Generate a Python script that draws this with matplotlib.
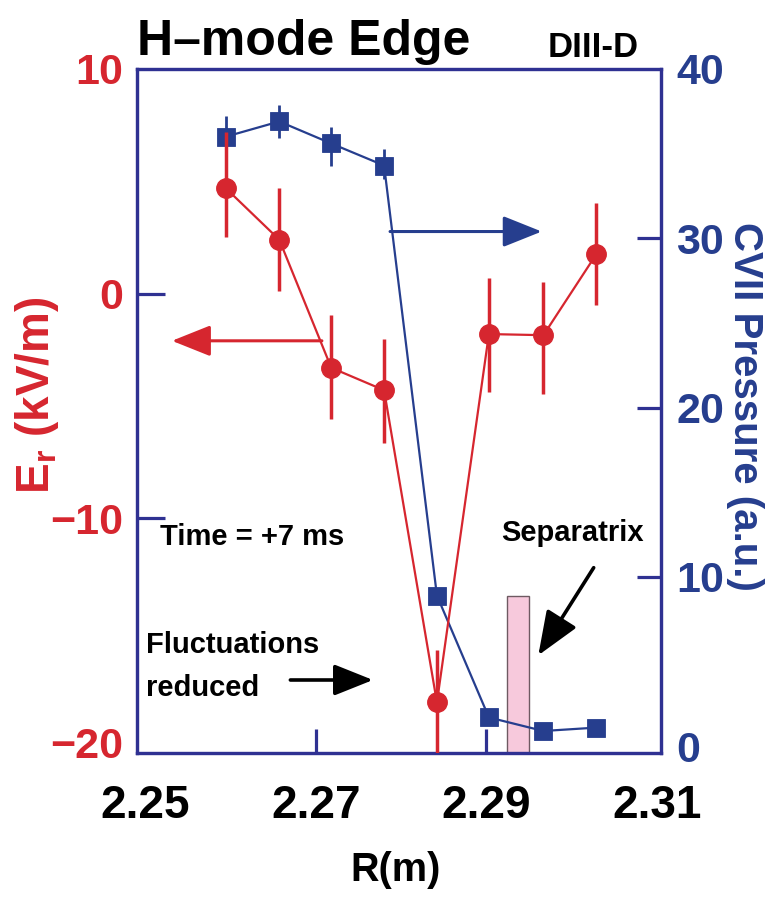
import matplotlib
matplotlib.use("Agg")
import matplotlib.pyplot as plt

# ---- data -------------------------------------------------------------
r_m = [2.2594, 2.2657, 2.2718, 2.2780, 2.2842, 2.2903, 2.2967, 2.3029]

er_kvm = [4.7, 2.4, -3.3, -4.3, -18.2, -1.8, -1.85, 1.75]
er_err_lo = [2.2, 2.3, 2.3, 2.35, 2.3, 2.6, 2.6, 2.25]
er_err_hi = [2.5, 2.3, 2.35, 2.3, 2.35, 2.5, 2.35, 2.3]

p_cvii = [36.0, 36.9, 35.6, 34.3, 8.9, 1.7, 0.9, 1.1]
p_err_lo = [1.1, 0.95, 1.3, 0.8, 0, 0, 0, 0]
p_err_hi = [1.2, 0.95, 1.0, 1.0, 0, 0, 0, 0]

separatrix_r = 2.2937
separatrix_top = 8.9

x_major = [2.27, 2.29]
x_edge = [2.25, 2.31]
er_major = [0, -10]
er_edge = [10, -20]
p_major = [10, 20, 30]
p_edge = [0, 40]

# ---- style ------------------------------------------------------------
RED = "#d6262f"
BLUE = "#263e8e"
FRAME = "#2f3192"
PINK = "#f7c9dc"

plt.rcParams["font.family"] = ["Liberation Sans", "DejaVu Sans"]
plt.rcParams["font.weight"] = "bold"
plt.rcParams["mathtext.fontset"] = "custom"
plt.rcParams["mathtext.rm"] = "Liberation Sans:bold"
plt.rcParams["mathtext.it"] = "Liberation Sans:bold"
plt.rcParams["mathtext.bf"] = "Liberation Sans:bold"

W, H = 770, 898
fig = plt.figure(figsize=(W / 100, H / 100), dpi=100)
ax = fig.add_axes([137 / W, 1 - 753 / H, 524 / W, 684 / H])
ax2 = ax.twinx()
# Er traces on top of the pressure traces
ax.set_zorder(ax2.get_zorder() + 1)
ax.patch.set_visible(False)

ax.set_xlim(2.249, 2.3105)
ax.set_ylim(-20.45, 10.0)
ax2.set_ylim(-0.4, 40.0)

for a in (ax, ax2):
    for s in a.spines.values():
        s.set_color(FRAME)
        s.set_linewidth(2.3)

# separatrix band
ax2.bar(separatrix_r, separatrix_top - ax2.get_ylim()[0], bottom=ax2.get_ylim()[0],
        width=0.0026, color=PINK, edgecolor="#6e5a62", linewidth=1.0, zorder=1)

# CVII pressure (right axis)
ax2.errorbar(r_m, p_cvii, yerr=[p_err_lo, p_err_hi], fmt="-s", color=BLUE,
             lw=1.6, ms=13, mew=0.6, elinewidth=2.0, capsize=0, zorder=3)
ax2.annotate("", xy=(2.2965, 30.4), xytext=(2.2787, 30.4),
             arrowprops=dict(arrowstyle="-|>,head_length=0.8,head_width=0.32",
                             mutation_scale=30, color=BLUE, lw=2.2,
                             shrinkA=0, shrinkB=0))

# Er (left axis)
ax.errorbar(r_m, er_kvm, yerr=[er_err_lo, er_err_hi], fmt="-o", color=RED,
            lw=1.6, ms=14, elinewidth=2.5, capsize=0, zorder=4)
ax.annotate("", xy=(2.2531, -2.1), xytext=(2.2707, -2.1),
            arrowprops=dict(arrowstyle="-|>,head_length=0.8,head_width=0.32",
                            mutation_scale=30, color=RED, lw=2.2,
                            shrinkA=0, shrinkB=0))

# black annotation arrows
ax.annotate("", xy=(2.2767, -17.2), xytext=(2.2670, -17.2),
            arrowprops=dict(arrowstyle="-|>,head_length=0.8,head_width=0.32",
                            mutation_scale=30, color="black", lw=2.6,
                            shrinkA=0, shrinkB=0))
ax.annotate("", xy=(2.2961, -16.1), xytext=(2.3026, -12.2),
            arrowprops=dict(arrowstyle="-|>,head_length=0.9,head_width=0.36",
                            mutation_scale=30, color="black", lw=2.6,
                            shrinkA=0, shrinkB=0))

# ---- ticks ------------------------------------------------------------
ax.set_xticks(x_major)
ax.set_xticks(x_edge, minor=True)
ax.set_xticklabels([f"{v:.2f}" for v in x_major])
ax.set_xticklabels([f"{v:.2f}" for v in x_edge], minor=True)
ax.set_yticks(er_major)
ax.set_yticks(er_edge, minor=True)
ax.set_yticklabels(["0", "\u221210"])
ax.set_yticklabels(["10", "\u221220"], minor=True)
ax2.set_yticks(p_major)
ax2.set_yticks(p_edge, minor=True)
ax2.set_yticklabels([str(v) for v in p_major])
ax2.set_yticklabels([str(v) for v in p_edge], minor=True)

ax.tick_params(axis="x", which="both", direction="in", pad=22, labelsize=33,
               labelcolor="black", color=FRAME)
ax.tick_params(axis="x", which="major", length=17, width=2.3)
ax.tick_params(axis="x", which="minor", length=0)
ax.tick_params(axis="y", which="both", direction="in", pad=10, labelsize=31,
               labelcolor=RED, color=FRAME)
ax.tick_params(axis="y", which="major", length=20, width=2.3)
ax.tick_params(axis="y", which="minor", length=0)
ax2.tick_params(axis="y", which="both", direction="in", pad=11, labelsize=31,
                labelcolor=BLUE, color=FRAME)
ax2.tick_params(axis="y", which="major", length=17, width=2.3)
ax2.tick_params(axis="y", which="minor", length=0)

# ---- text -------------------------------------------------------------
fig.text(137 / W, 1 - 55 / H, "H\u2013mode Edge", fontsize=36, ha="left", va="baseline")
fig.text(548 / W, 1 - 57 / H, "DIII-D", fontsize=25, ha="left", va="baseline")

fig.text(37 / W, 1 - 395 / H, r"E$_\mathrm{r}$ (kV/m)", fontsize=33, color=RED,
         rotation=90, ha="center", va="center")
fig.text(745 / W, 1 - 406 / H, "CVII Pressure (a.u.)", fontsize=29, color=BLUE,
         rotation=-90, ha="center", va="center")
fig.text(396 / W, 1 - 870 / H, "R(m)", fontsize=28.5, ha="center", va="center")

ax.text(2.2517, -11.2, "Time = +7 ms", fontsize=21, ha="left", va="baseline")
ax.text(2.2917, -11.0, "Separatrix", fontsize=21, ha="left", va="baseline")
ax.text(2.2500, -16.0, "Fluctuations", fontsize=21, ha="left", va="baseline")
ax.text(2.2500, -17.9, "reduced", fontsize=21, ha="left", va="baseline")

fig.savefig("out.png", dpi=100)
